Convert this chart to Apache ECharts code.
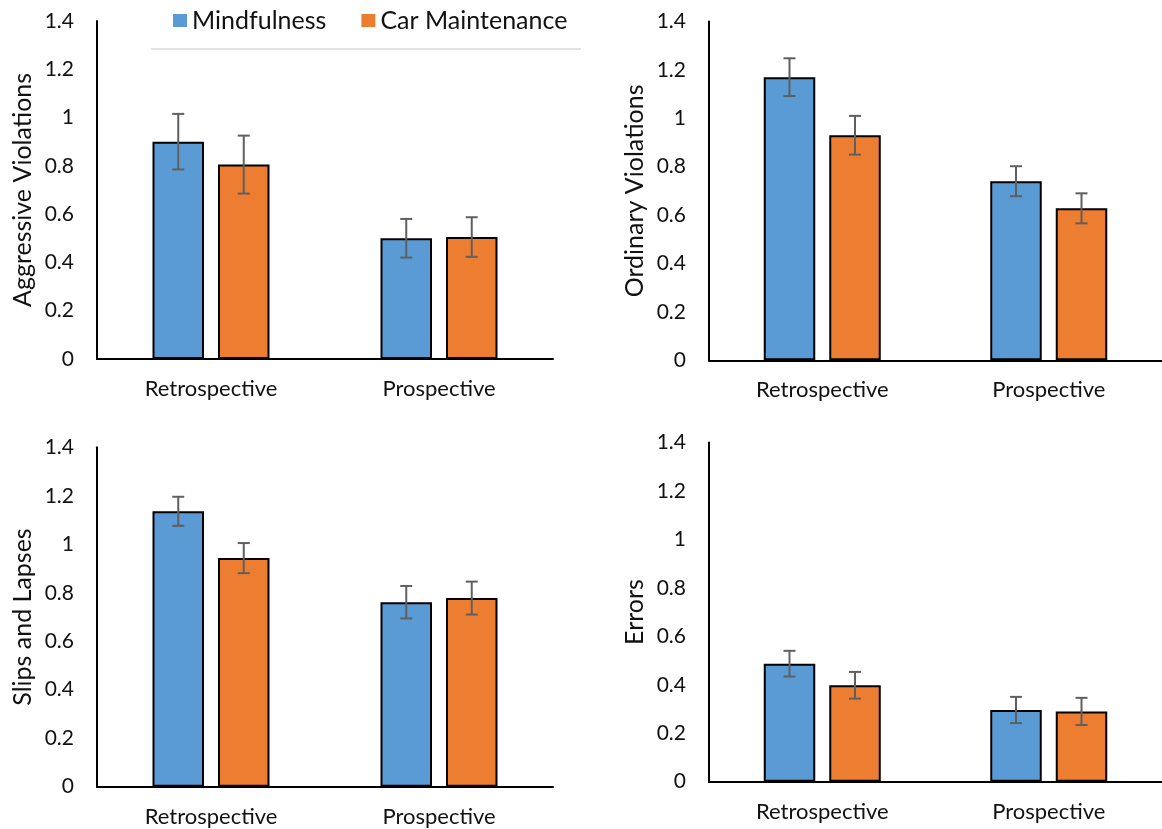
<!DOCTYPE html>
<html>
<head>
<meta charset="utf-8">
<title>Driver Behaviour by Training Condition</title>
<script src="https://cdn.jsdelivr.net/npm/echarts@6/dist/echarts.min.js"></script>
<style>
  html, body { margin: 0; padding: 0; background: #fff; }
  #chart { width: 1162px; height: 829px; }
</style>
</head>
<body>
<div id="chart"></div>
<script>
// Timing categories on every x axis
const categories = ['Retrospective', 'Prospective'];
const seriesNames = ['Mindfulness', 'Car Maintenance'];
const yTickLabels = ['0', '0.2', '0.4', '0.6', '0.8', '1', '1.2', '1.4'];

// Mean scores per panel, [Retrospective, Prospective]
const aggressiveMindfulness = [0.90, 0.50];
const aggressiveCar = [0.805, 0.505];
const ordinaryMindfulness = [1.17, 0.74];
const ordinaryCar = [0.93, 0.628];
const slipsMindfulness = [1.136, 0.761];
const slipsCar = [0.943, 0.778];
const errorsMindfulness = [0.487, 0.296];
const errorsCar = [0.398, 0.29];

// Standard errors (half-length of each error bar)
const aggressiveMindfulnessErr = [0.115, 0.08];
const aggressiveCarErr = [0.12, 0.082];
const ordinaryMindfulnessErr = [0.078, 0.062];
const ordinaryCarErr = [0.08, 0.062];
const slipsMindfulnessErr = [0.06, 0.067];
const slipsCarErr = [0.062, 0.068];
const errorsMindfulnessErr = [0.053, 0.054];
const errorsCarErr = [0.055, 0.056];

const panelTitles = ['Aggressive Violations', 'Ordinary Violations', 'Slips and Lapses', 'Errors'];

const panels = [
  { title: panelTitles[0], m: aggressiveMindfulness, c: aggressiveCar, me: aggressiveMindfulnessErr, ce: aggressiveCarErr },
  { title: panelTitles[1], m: ordinaryMindfulness, c: ordinaryCar, me: ordinaryMindfulnessErr, ce: ordinaryCarErr },
  { title: panelTitles[2], m: slipsMindfulness, c: slipsCar, me: slipsMindfulnessErr, ce: slipsCarErr },
  { title: panelTitles[3], m: errorsMindfulness, c: errorsCar, me: errorsMindfulnessErr, ce: errorsCarErr }
];

// Plot-area layout for the 2x2 arrangement
const grids = [
  { left: 97,  top: 20.9,  width: 456, height: 338.1 },
  { left: 709, top: 21.5,  width: 456, height: 338.8 },
  { left: 97,  top: 447.3, width: 456, height: 339.4 },
  { left: 709, top: 442.4, width: 456, height: 339.3 }
];

const COLORS = ['#5B9BD5', '#ED7D31'];
const BAR_W = 51.5;
const BAR_GAP = 14;
const FONT = 'Lato, "Noto Sans", sans-serif';
const TEXT = '#111';

const chart = echarts.init(document.getElementById('chart'), null, { renderer: 'canvas' });

const xAxes = [], yAxes = [], series = [];

panels.forEach((p, i) => {
  xAxes.push({
    type: 'category', gridIndex: i, data: categories,
    axisLine: { lineStyle: { color: '#000', width: 2 } },
    axisTick: { show: false },
    axisLabel: { color: TEXT, fontFamily: FONT, fontSize: 22, margin: 19 },
    splitLine: { show: false }
  });
  yAxes.push({
    type: 'value', gridIndex: i, min: 0, max: 1.4, interval: 0.2,
    name: p.title, nameLocation: 'middle', nameGap: 62,
    nameTextStyle: { color: TEXT, fontFamily: FONT, fontSize: 25 },
    axisLine: { show: true, lineStyle: { color: '#000', width: 2 } },
    axisTick: { show: false },
    axisLabel: {
      color: TEXT, fontFamily: FONT, fontSize: 21, margin: 23,
      formatter: (v, idx) => yTickLabels[idx]
    },
    splitLine: { show: false }
  });

  [p.m, p.c].forEach((vals, s) => {
    series.push({
      type: 'bar', name: seriesNames[s],
      xAxisIndex: i, yAxisIndex: i,
      data: vals,
      barWidth: BAR_W, barGap: (BAR_GAP / BAR_W * 100) + '%',
      itemStyle: { color: COLORS[s], borderColor: '#000', borderWidth: 2 },
      emphasis: { disabled: true },
      z: 2
    });
  });

  // Error bars centred on each bar
  [[p.m, p.me, -1], [p.c, p.ce, 1]].forEach(([vals, errs, side]) => {
    series.push({
      type: 'custom', xAxisIndex: i, yAxisIndex: i,
      data: vals.map((v, k) => [k, v, errs[k]]),
      z: 5, silent: true,
      renderItem: (params, api) => {
        const k = api.value(0), v = api.value(1), e = api.value(2);
        const off = side * (BAR_W + BAR_GAP) / 2;
        const top = api.coord([k, v + e]);
        const bot = api.coord([k, v - e]);
        const x = top[0] + off;
        const cap = 6;
        const style = { stroke: '#5f5f5f', lineWidth: 2 };
        return {
          type: 'group',
          children: [
            { type: 'line', shape: { x1: x, y1: top[1], x2: x, y2: bot[1] }, style },
            { type: 'line', shape: { x1: x - cap, y1: top[1], x2: x + cap, y2: top[1] }, style },
            { type: 'line', shape: { x1: x - cap, y1: bot[1], x2: x + cap, y2: bot[1] }, style }
          ]
        };
      }
    });
  });
});

chart.setOption({
  backgroundColor: '#fff',
  animation: false,
  grid: grids,
  xAxis: xAxes,
  yAxis: yAxes,
  legend: {
    data: seriesNames,
    left: 168, top: 3,
    icon: 'rect', itemWidth: 14, itemHeight: 13, itemGap: 35,
    itemStyle: { borderWidth: 0 },
    textStyle: { color: TEXT, fontFamily: FONT, fontSize: 25 }
  },
  graphic: [
    { type: 'line', shape: { x1: 151, y1: 49, x2: 581, y2: 49 }, style: { stroke: '#d9d9d9', lineWidth: 1.5 } }
  ],
  series: series
});
</script>
</body>
</html>
